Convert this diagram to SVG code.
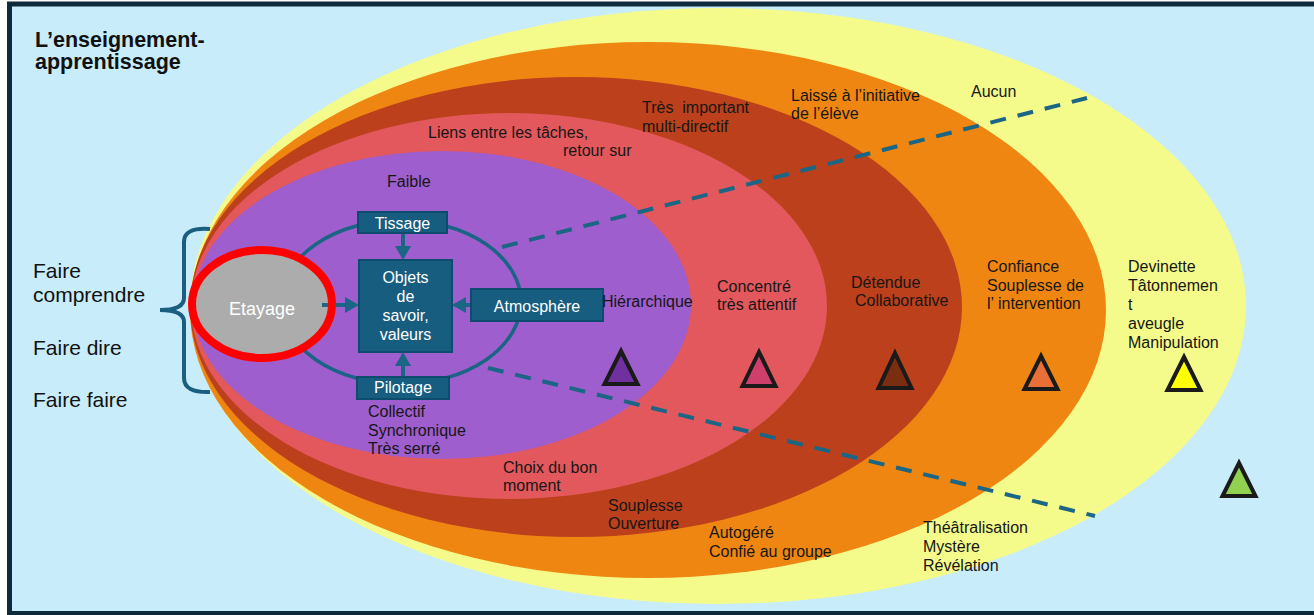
<svg xmlns="http://www.w3.org/2000/svg" width="1314" height="615" viewBox="0 0 1314 615">
<defs>
<style>
.t{font-family:"Liberation Sans",Arial,sans-serif;font-size:16px;fill:#161616}
.big{font-family:"Liberation Sans",Arial,sans-serif;font-size:21px;fill:#111}
.title{font-family:"Liberation Sans",Arial,sans-serif;font-size:21.5px;font-weight:bold;fill:#111}
.wt{font-family:"Liberation Sans",Arial,sans-serif;font-size:16px;fill:#fff;text-anchor:middle}
.box{fill:#175d80;stroke:#0d4c6c;stroke-width:2}
.tri{stroke:#1a1a1a;stroke-width:4;stroke-linejoin:miter}
.arr{stroke:#1b6585;stroke-width:4;fill:none;marker-end:url(#ah)}
.dash{stroke:#1b6585;stroke-width:4;fill:none;stroke-dasharray:16 12}
</style>
<marker id="ah" markerUnits="userSpaceOnUse" markerWidth="16" markerHeight="16" refX="6" refY="8" orient="auto">
<path d="M0,0 L14,8 L0,16 z" fill="#1b6585"/>
</marker>
</defs>
<rect id="frame" x="9.5" y="4" width="1320" height="609.5" fill="#c8ecfa" stroke="#0f2b3b" stroke-width="5"/>
<g id="rings">
<ellipse id="ring-yellow" cx="718" cy="306" rx="528" ry="298" fill="#f5fb8b"/>
<ellipse id="ring-orange" cx="648" cy="310" rx="458" ry="268" fill="#ef8612"/>
<ellipse id="ring-darkred" cx="576" cy="307" rx="386" ry="230" fill="#bc401b"/>
<ellipse id="ring-pink" cx="509" cy="306" rx="318" ry="193" fill="#e2585c"/>
<ellipse id="ring-purple" cx="442" cy="305" rx="249" ry="154" fill="#9e5ecd"/>
</g>
<g id="title">
<text class="title" x="35" y="47">L’enseignement-</text>
<text class="title" x="35" y="69">apprentissage</text>
</g>
<g id="left-labels">
<text class="big" x="33" y="278">Faire</text>
<text class="big" x="33" y="302">comprendre</text>
<text class="big" x="33" y="355">Faire dire</text>
<text class="big" x="33" y="407">Faire faire</text>
</g>
<g id="brace">
<path d="M210,229 Q184,227 184,242 L184,298 Q184,310 160,310 Q184,310 184,322 L184,378 Q184,393 210,392" fill="none" stroke="#1b5f80" stroke-width="4"/>
</g>
<g id="cycle">
<ellipse cx="401" cy="302" rx="120" ry="82" fill="none" stroke="#1a6585" stroke-width="3.5"/>
</g>
<g id="connectors">
<line class="dash" x1="502" y1="247" x2="1087" y2="98"/>
<line class="dash" x1="488" y1="368" x2="1095" y2="516"/>
<line class="arr" x1="403" y1="233" x2="403" y2="252"/>
<line class="arr" x1="403" y1="377" x2="403" y2="360"/>
<line class="arr" x1="471" y1="305" x2="460" y2="305"/>
</g>
<g id="etayage">
<ellipse cx="262" cy="304" rx="70" ry="54" fill="#acacac" stroke="#ff0000" stroke-width="8"/>
<text class="wt" x="262" y="315" style="font-size:18px">Etayage</text>
</g>
<g id="etayage-arrow">
<line x1="322" y1="305" x2="351" y2="305" stroke="#1b6585" stroke-width="4" stroke-dasharray="6 7 30" marker-end="url(#ah)"/>
</g>
<g id="tissage">
<rect class="box" x="358" y="212" width="89" height="21"/>
<text class="wt" x="402.5" y="229">Tissage</text>
</g>
<g id="objets">
<rect class="box" x="359" y="260" width="93" height="92"/>
<text class="wt" x="405.5" y="283">Objets</text>
<text class="wt" x="405.5" y="302">de</text>
<text class="wt" x="405.5" y="321">savoir,</text>
<text class="wt" x="405.5" y="340">valeurs</text>
</g>
<g id="atmosphere">
<rect class="box" x="471" y="289" width="132" height="32"/>
<text class="wt" x="537" y="312">Atmosphère</text>
</g>
<g id="pilotage">
<rect class="box" x="357" y="377" width="92" height="22"/>
<text class="wt" x="403" y="393">Pilotage</text>
</g>
<g id="ring-labels">
<text class="t" x="387" y="187">Faible</text>
<text class="t" x="428" y="138">Liens entre les tâches,</text>
<text class="t" x="563" y="156">retour sur</text>
<text class="t" x="642" y="113" xml:space="preserve">Très  important</text>
<text class="t" x="642" y="132">multi-directif</text>
<text class="t" x="791" y="101">Laissé à l’initiative</text>
<text class="t" x="791" y="119">de l’élève</text>
<text class="t" x="971" y="97">Aucun</text>
<text class="t" x="602" y="307">Hiérarchique</text>
<text class="t" x="717" y="292">Concentré</text>
<text class="t" x="717" y="310">très attentif</text>
<text class="t" x="851" y="288">Détendue</text>
<text class="t" x="855" y="306">Collaborative</text>
<text class="t" x="987" y="272">Confiance</text>
<text class="t" x="987" y="291">Souplesse de</text>
<text class="t" x="987" y="309">l’ intervention</text>
<text class="t" x="1128" y="272">Devinette</text>
<text class="t" x="1128" y="291">Tâtonnemen</text>
<text class="t" x="1128" y="310">t</text>
<text class="t" x="1128" y="329">aveugle</text>
<text class="t" x="1128" y="348">Manipulation</text>
<text class="t" x="368" y="417">Collectif</text>
<text class="t" x="368" y="436">Synchronique</text>
<text class="t" x="368" y="454">Très serré</text>
<text class="t" x="503" y="473">Choix du bon</text>
<text class="t" x="503" y="491">moment</text>
<text class="t" x="608" y="511">Souplesse</text>
<text class="t" x="608" y="529">Ouverture</text>
<text class="t" x="709" y="538">Autogéré</text>
<text class="t" x="709" y="557">Confié au groupe</text>
<text class="t" x="923" y="533">Théâtralisation</text>
<text class="t" x="923" y="552">Mystère</text>
<text class="t" x="923" y="571">Révélation</text>
</g>
<g id="triangles">
<polygon class="tri" fill="#7030a0" points="621,351 637.5,384 604.5,384"/>
<polygon class="tri" fill="#cf3f6c" points="759,352 775.5,386 742.5,386"/>
<polygon class="tri" fill="#7a2e10" points="895,353 911.5,388 878.5,388"/>
<polygon class="tri" fill="#e87036" points="1041,356 1057.5,389 1024.5,389"/>
<polygon class="tri" fill="#ffff00" points="1184,357 1200.5,390 1167.5,390"/>
<polygon class="tri" fill="#92d050" points="1239,463 1255.5,496 1222.5,496"/>
</g>
</svg>
